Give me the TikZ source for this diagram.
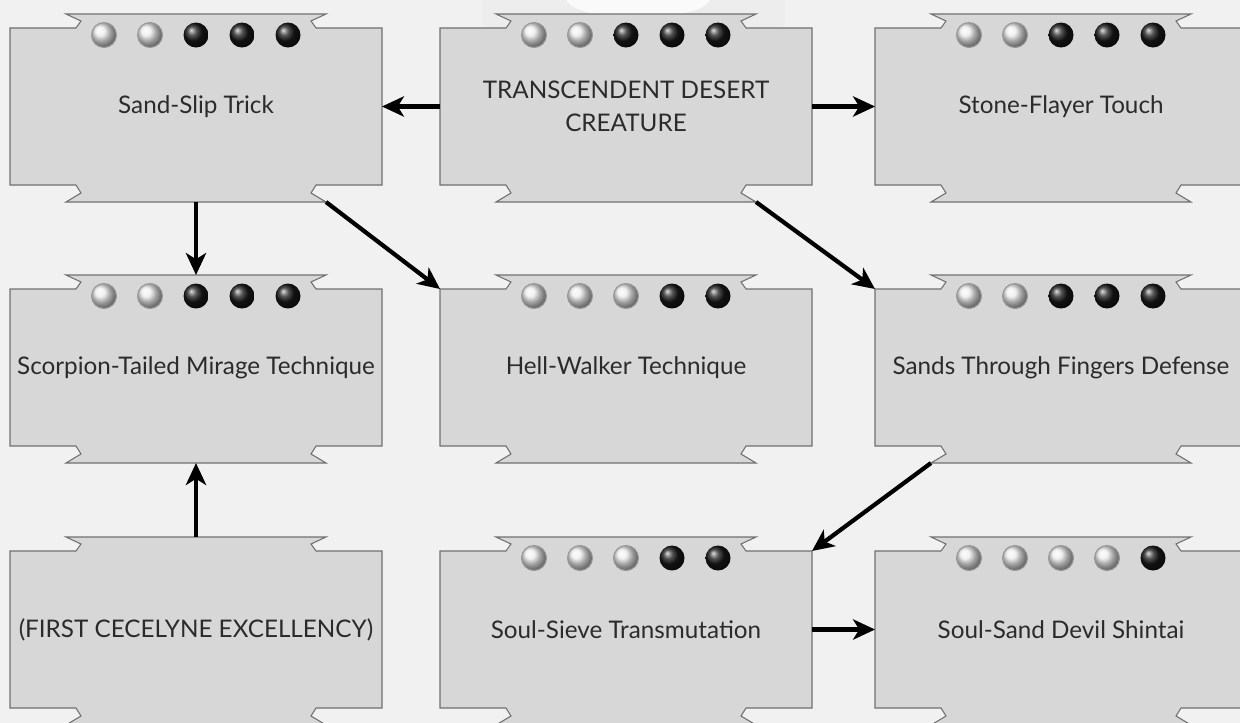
\documentclass[tikz,border=0pt]{standalone}
\usepackage{fontspec}
\setmainfont{Lato}
\usetikzlibrary{arrows.meta, calc, positioning, shadings}
\definecolor{sandgrund}{HTML}{F1F1F1}
\definecolor{kartenfill}{HTML}{D7D7D7}
\definecolor{kartenrand}{HTML}{707070}
\definecolor{schrift}{HTML}{2B2B2B}

% card outline: name, left x, tab top y, text
\newcommand\charmbox[4]{%
  \filldraw[card] (#2,#3+14) -- (#2+66,#3+14) -- (#2+71,#3+7) -- (#2+56,#3)
    -- (#2+316,#3) -- (#2+301,#3+7) -- (#2+306,#3+14) -- (#2+372,#3+14)
    -- (#2+372,#3+171) -- (#2+306,#3+171) -- (#2+301,#3+179) -- (#2+316,#3+188)
    -- (#2+56,#3+188) -- (#2+71,#3+179) -- (#2+66,#3+171) -- (#2,#3+171) -- cycle;
  \coordinate (#1-top) at (#2+186,#3);
  \coordinate (#1-bot) at (#2+186,#3+188);
  \coordinate (#1-bl) at (#2+56,#3+188);
  \coordinate (#1-br) at (#2+316,#3+188);
  \node[cardtext] (#1) at (#2+186,#3+92.5) {#4};
}
% dots on the top edge: name, list of dot styles
\newcommand\charmdots[2]{%
  \foreach \c [count=\i] in {#2}
    \path[\c] ($(#1.north)+(\i*46-138,7)$) circle (12.5);
}

\begin{document}
\begin{tikzpicture}[x=0.02cm, y=-0.02cm,
    card/.style={fill=kartenfill, draw=kartenrand, line width=0.6pt},
    cardtext/.style={minimum width=7.44cm, minimum height=3.14cm, outer sep=0pt,
                     inner sep=0pt, align=center, text=schrift,
                     font=\fontsize{13.8}{18.5}\selectfont},
    silver/.style={ball color=gray!15, draw=gray!80, line width=0.6pt},
    onyx/.style={ball color=black!90},
    arr/.style={-{Stealth[length=12.5pt, width=11.5pt, inset=3.5pt]}, line width=2.4pt, black}
  ]
  \useasboundingbox (0,0) rectangle (1240,723);
  \clip (0,0) rectangle (1240,723);
  \fill[sandgrund] (0,0) rectangle (1240,723);

  % faint emblem behind the top card
  \fill[black!7, rounded corners=12pt] (482,-30) rectangle (785,40);
  \fill[black!2] (638,-2) ellipse (72 and 20);

  \charmbox{sandslip}{10}{14}{Sand-Slip Trick}
  \charmbox{tdc}{440}{14}{TRANSCENDENT DESERT\\CREATURE}
  \charmbox{stone}{875}{14}{Stone-Flayer Touch}
  \charmbox{scorpion}{10}{275}{Scorpion-Tailed Mirage Technique}
  \charmbox{hellwalker}{440}{275}{Hell-Walker Technique}
  \charmbox{sands}{875}{275}{Sands Through Fingers Defense}
  \charmbox{firstexc}{10}{537}{(FIRST CECELYNE EXCELLENCY)}
  \charmbox{soulsieve}{440}{537}{Soul-Sieve Transmutation}
  \charmbox{soulsand}{875}{537}{Soul-Sand Devil Shintai}

  \charmdots{sandslip}{silver,silver,onyx,onyx,onyx}
  \charmdots{tdc}{silver,silver,onyx,onyx,onyx}
  \charmdots{stone}{silver,silver,onyx,onyx,onyx}
  \charmdots{scorpion}{silver,silver,onyx,onyx,onyx}
  \charmdots{hellwalker}{silver,silver,silver,onyx,onyx}
  \charmdots{sands}{silver,silver,onyx,onyx,onyx}
  \charmdots{soulsieve}{silver,silver,silver,onyx,onyx}
  \charmdots{soulsand}{silver,silver,silver,silver,onyx}

  \draw[arr] (tdc.west) -- (sandslip.east);
  \draw[arr] (tdc.east) -- (stone.west);
  \draw[arr] (sandslip-bot) -- (scorpion-top);
  \draw[arr] (sandslip-br) -- (hellwalker.north west);
  \draw[arr] (tdc-br) -- (sands.north west);
  \draw[arr] (sands-bl) -- (soulsieve.north east);
  \draw[arr] (firstexc-top) -- (scorpion-bot);
  \draw[arr] (soulsieve.east) -- (soulsand.west);
\end{tikzpicture}
\end{document}
